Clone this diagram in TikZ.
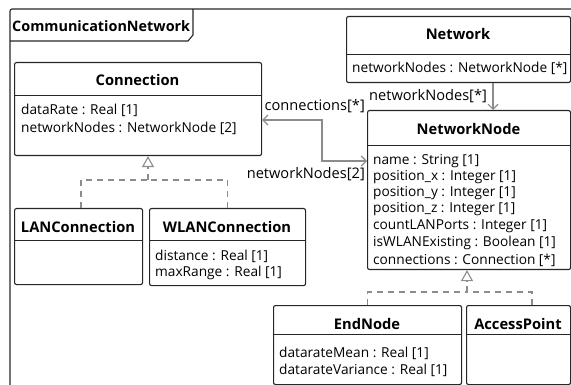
\documentclass[tikz,border=0pt]{standalone}
\usepackage{fontspec}
\setmainfont{Open Sans}
\usetikzlibrary{arrows.meta}
\definecolor{conn}{RGB}{140,140,140}
\tikzset{
  umlbox/.style={draw=black!85, line width=1.1pt, rounded corners=2pt, inner sep=0pt, anchor=north west},
  title/.style={font=\fontsize{14.7}{16}\selectfont\bfseries, inner sep=0pt},
  attr/.style={font=\fontsize{13.7}{15}\selectfont, inner sep=0pt, anchor=west},
  lbl/.style={font=\fontsize{14.6}{16}\selectfont, inner sep=0pt},
  divider/.style={draw=black!85, line width=1pt},
  assoc/.style={draw=conn, line width=1.2pt},
  gen/.style={draw=conn, line width=1.2pt, dash pattern=on 6pt off 5pt},
  tri/.style={-{Triangle[open,length=11pt,width=12pt,line width=1.1pt]}},
  barb/.style={{Straight Barb[length=5pt,width=10pt,line width=1.2pt]}}
}
\begin{document}
\begin{tikzpicture}[x=1pt,y=-1pt]
\useasboundingbox (0,0) rectangle (571,385);
% frame
\draw[black!85, line width=1.1pt, rounded corners=2pt] (10,390) -- (10,9) -- (580,9);
\draw[black!85, line width=1.1pt] (10,41) -- (188,41) -- (193,35) -- (193,9);
\node[font=\fontsize{14.4}{16}\selectfont\bfseries, anchor=west, inner sep=0pt] (frametitle) at (12,26) {CommunicationNetwork};

% Connection
\node[umlbox, minimum width=247pt, minimum height=93pt] (connb) at (14,62) {};
\node[title] (connt) at (137.5,80) {Connection};
\draw[divider] (connb.west |- 0,96) -- (connb.east |- 0,96);
\node[attr] (conna1) at (21,110) {dataRate : Real [1]};
\node[attr] (conna2) at (21,128) {networkNodes : NetworkNode [2]};

% Network
\node[umlbox, minimum width=224pt, minimum height=66pt] (netb) at (346,16) {};
\node[title] (nett) at (458,34) {Network};
\draw[divider] (netb.west |- 0,55) -- (netb.east |- 0,55);
\node[attr] (neta1) at (352,68) {networkNodes : NetworkNode [*]};

% NetworkNode
\node[umlbox, minimum width=203pt, minimum height=159pt] (nnb) at (367,110) {};
\node[title] (nnt) at (468.5,129) {NetworkNode};
\draw[divider] (nnb.west |- 0,146) -- (nnb.east |- 0,146);
\node[attr] (nna1) at (373,161) {name : String [1]};
\node[attr] (nna2) at (373,177) {position\_x : Integer [1]};
\node[attr] (nna3) at (373,193) {position\_y : Integer [1]};
\node[attr] (nna4) at (373,209) {position\_z : Integer [1]};
\node[attr] (nna5) at (373,226) {countLANPorts : Integer [1]};
\node[attr] (nna6) at (373,243) {isWLANExisting : Boolean [1]};
\node[attr] (nna7) at (373,260) {connections : Connection [*]};

% LANConnection
\node[umlbox, minimum width=128pt, minimum height=76pt] (lanb) at (14,208) {};
\node[title] (lant) at (78,227) {LANConnection};
\draw[divider] (lanb.west |- 0,241) -- (lanb.east |- 0,241);

% WLANConnection
\node[umlbox, minimum width=156pt, minimum height=77pt] (wlanb) at (149,208) {};
\node[title] (wlant) at (227,227) {WLANConnection};
\draw[divider] (wlanb.west |- 0,241) -- (wlanb.east |- 0,241);
\node[attr] (wlana1) at (155,256) {distance : Real [1]};
\node[attr] (wlana2) at (155,273) {maxRange : Real [1]};

% EndNode
\node[umlbox, minimum width=188pt, minimum height=79pt] (endb) at (273,305) {};
\node[title] (endt) at (367,324) {EndNode};
\draw[divider] (endb.west |- 0,334) -- (endb.east |- 0,334);
\node[attr] (enda1) at (279,353) {datarateMean : Real [1]};
\node[attr] (enda2) at (279,370) {datarateVariance : Real [1]};

% AccessPoint
\node[umlbox, minimum width=104pt, minimum height=79pt] (apb) at (466,305) {};
\node[title] (apt) at (518,324) {AccessPoint};
\draw[divider] (apb.west |- 0,334) -- (apb.east |- 0,334);

% generalizations
\draw[gen] (lanb.north -| 81,0) -- (81,180) -- (148,180);
\draw[gen] (wlanb.north) |- (148,180);
\draw[gen, tri] (148,180) -- (connb.south -| 148,0);
\draw[gen] (endb.north) |- (467,292);
\draw[gen] (apb.north -| 532,0) |- (467,292);
\draw[gen, tri] (467,292) -- (nnb.south -| 467,0);

% associations
\draw[assoc, -{Straight Barb[length=5pt,width=10pt,line width=1.2pt]}] (netb.south -| 493,0) -- (nnb.north -| 493,0);
\draw[assoc, {Straight Barb[length=5pt,width=10pt,line width=1.2pt]}-{Straight Barb[length=5pt,width=10pt,line width=1.2pt]}]
  (connb.east |- 0,120) -- (322,120) -- (322,161) -- (nnb.west |- 0,161);

\node[lbl, anchor=east] (l1) at (365,106) {connections[*]};
\node[lbl, anchor=east] (l2) at (365,174) {networkNodes[2]};
\node[lbl, anchor=west] (l3) at (369,96) {networkNodes[*]};
\end{tikzpicture}
\end{document}
